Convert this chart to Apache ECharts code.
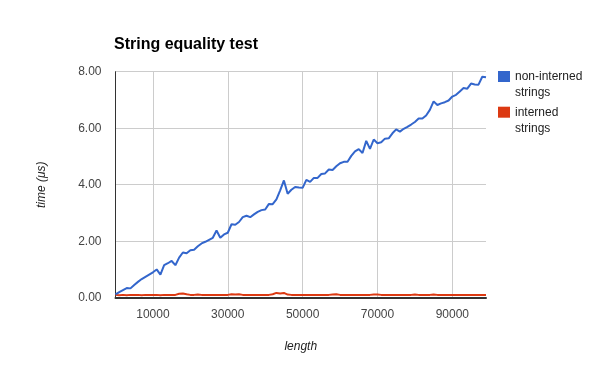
<!DOCTYPE html>
<html>
<head>
<meta charset="utf-8">
<script src="https://cdn.jsdelivr.net/npm/echarts@6/dist/echarts.min.js"></script>
<style>html,body{margin:0;padding:0;background:#fff}#c{width:600px;height:371px}</style>
</head>
<body>
<div id="c"></div>
<script>
var titleText = 'String equality test';
var xName = 'length';
var yName = 'time (\u03bcs)';
var seriesNames = ['non-interned strings', 'interned strings'];
var xTicks = [10000, 30000, 50000, 70000, 90000];
var yTicks = [0, 2, 4, 6, 8];
var lengths = [];
for (var i = 0; i < 100; i++) lengths.push(i * 1000);
var nonInterned = [
  0.12,0.20,0.27,0.34,0.33,0.45,0.56,0.66,0.74,0.82,
  0.90,1.00,0.82,1.15,1.22,1.30,1.15,1.42,1.60,1.57,
  1.68,1.70,1.82,1.92,1.98,2.05,2.12,2.38,2.12,2.24,
  2.30,2.60,2.58,2.68,2.85,2.90,2.85,2.95,3.04,3.10,
  3.12,3.32,3.31,3.48,3.80,4.15,3.68,3.82,3.92,3.90,
  3.89,4.17,4.10,4.24,4.24,4.38,4.40,4.54,4.52,4.65,
  4.76,4.81,4.81,5.02,5.18,5.26,5.12,5.55,5.27,5.60,
  5.47,5.50,5.63,5.64,5.82,5.96,5.88,5.98,6.05,6.13,
  6.22,6.34,6.34,6.45,6.65,6.95,6.82,6.88,6.92,6.98,
  7.12,7.18,7.30,7.42,7.40,7.58,7.55,7.54,7.82,7.80
];
var interned = [
  0.10,0.09,0.10,0.09,0.10,0.10,0.10,0.09,0.10,0.10,
  0.10,0.10,0.09,0.10,0.10,0.10,0.10,0.14,0.15,0.12,
  0.10,0.10,0.11,0.10,0.10,0.10,0.10,0.10,0.10,0.10,
  0.10,0.12,0.11,0.12,0.10,0.10,0.10,0.10,0.10,0.10,
  0.10,0.10,0.12,0.17,0.15,0.17,0.11,0.10,0.10,0.10,
  0.10,0.10,0.10,0.10,0.10,0.10,0.10,0.10,0.11,0.12,
  0.10,0.10,0.10,0.10,0.10,0.10,0.10,0.10,0.10,0.11,
  0.11,0.10,0.10,0.10,0.10,0.10,0.10,0.10,0.10,0.10,
  0.11,0.10,0.10,0.10,0.10,0.11,0.10,0.10,0.10,0.10,
  0.10,0.10,0.10,0.10,0.10,0.10,0.10,0.10,0.10,0.10
];

function pairs(vals) { return lengths.map(function (x, i) { return [x, vals[i]]; }); }
var font = 'Arial, "Liberation Sans", sans-serif';
function legendFor(name, top) {
  return {
    data: [name], left: 498, top: top, padding: 0, orient: 'vertical',
    itemWidth: 12, itemHeight: 11, itemGap: 5, icon: 'rect',
    selectedMode: false,
    formatter: function (n) { return '\n' + n.replace(' ', '\n'); },
    textStyle: { fontFamily: font, fontSize: 12, color: '#222', lineHeight: 16 }
  };
}
var chart = echarts.init(document.getElementById('c'), null, { renderer: 'canvas' });
chart.setOption({
  animation: false,
  color: ['#3366cc', '#dc3912'],
  title: {
    text: titleText, left: 114, top: 37, padding: 0,
    textStyle: { fontFamily: font, fontSize: 16, fontWeight: 'bold', color: '#000' }
  },
  legend: [legendFor(seriesNames[0], 52.5), legendFor(seriesNames[1], 88.2)],
  grid: { left: 115.5, right: 114, top: 71.7, bottom: 73.3, containLabel: false },
  xAxis: {
    type: 'value', min: 0, max: 99000,
    name: xName, nameLocation: 'middle', nameGap: 43,
    nameTextStyle: { fontFamily: font, fontSize: 12, fontStyle: 'italic', color: '#222' },
    axisLine: { show: true, onZero: false, lineStyle: { color: '#333', width: 2 } },
    axisTick: { show: false, customValues: xTicks },
    axisLabel: { customValues: xTicks, margin: 11, fontFamily: font, fontSize: 12, color: '#444',
      formatter: function (v) { return String(v); } },
    splitLine: { show: true, lineStyle: { color: '#ccc', width: 1 } }
  },
  yAxis: {
    type: 'value', min: 0, max: 8, interval: 2,
    name: yName, nameLocation: 'middle', nameGap: 68,
    nameTextStyle: { fontFamily: font, fontSize: 12, fontStyle: 'italic', color: '#222' },
    axisLine: { show: true, lineStyle: { color: '#333', width: 1 } },
    axisTick: { show: false },
    axisLabel: { margin: 14, fontFamily: font, fontSize: 12, color: '#444',
      formatter: function (v) { return v.toFixed(2); } },
    splitLine: { show: true, lineStyle: { color: '#ccc', width: 1 } }
  },
  series: [
    { name: seriesNames[0], type: 'line', data: pairs(nonInterned), showSymbol: false,
      lineStyle: { width: 2 }, z: 3 },
    { name: seriesNames[1], type: 'line', data: pairs(interned), showSymbol: false,
      lineStyle: { width: 2 }, z: 2 }
  ]
});
</script>
</body>
</html>
